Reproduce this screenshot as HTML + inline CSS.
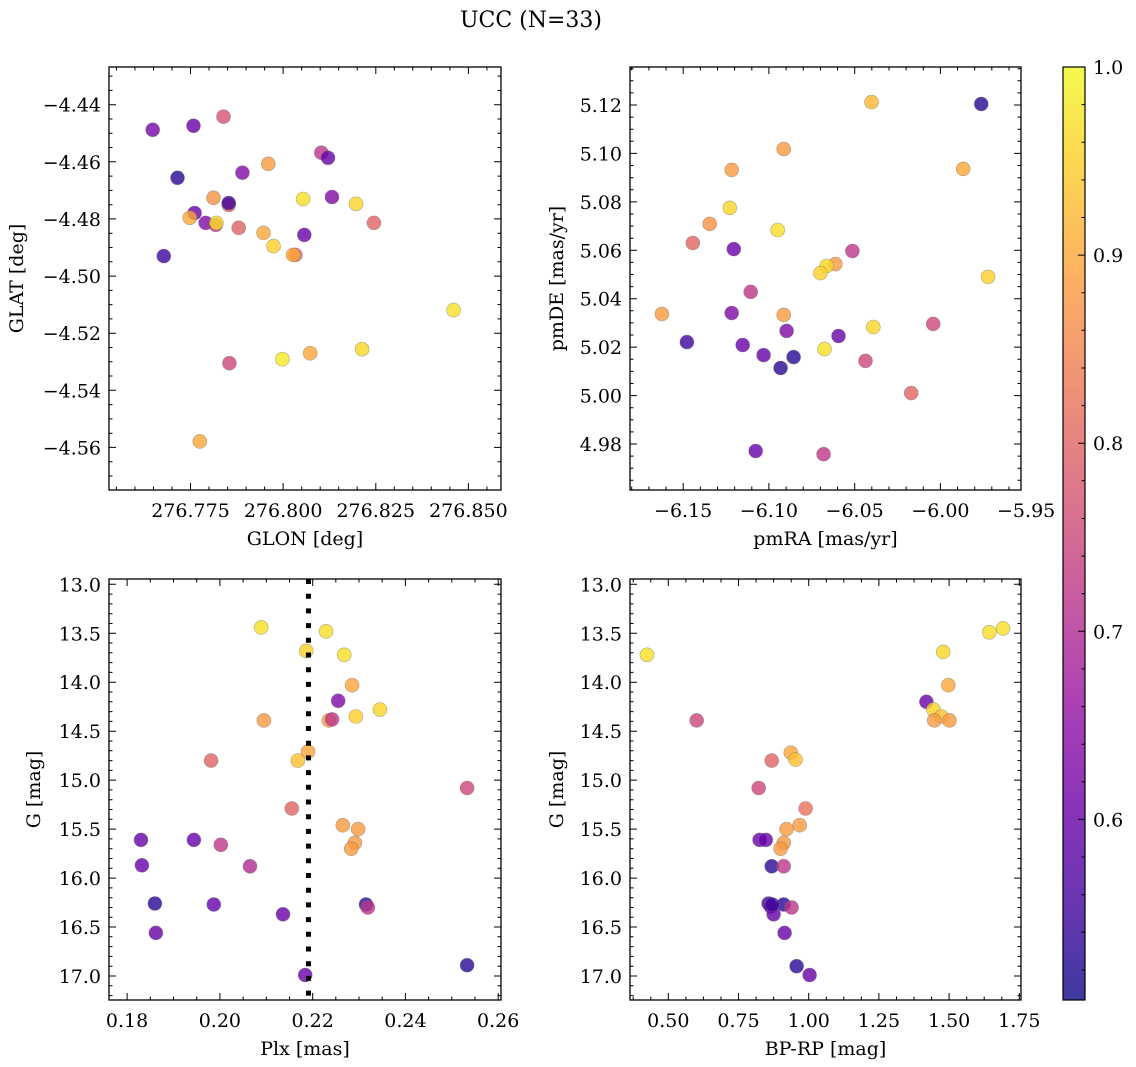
<!DOCTYPE html>
<html><head><meta charset="utf-8">
<style>
html,body{margin:0;padding:0;background:#fff;}
svg{display:block;font-family:"DejaVu Serif","Liberation Serif",serif;}
</style></head>
<body>
<svg id="fig" width="1136" height="1067" viewBox="0 0 1136 1067" xmlns="http://www.w3.org/2000/svg">
<text x="531" y="27" font-size="22" text-anchor="middle">UCC (N=33)</text>
</svg>
<script>
// ---- Panel 1: GLON vs GLAT ----
const glonX = [276.7648,276.7758,276.7839,276.7715,276.789,276.796,276.8103,276.8121,276.7812,276.7853,276.7853,276.8132,276.8054,276.8197,276.7761,276.7748,276.7791,276.7818,276.782,276.788,276.8245,276.7947,276.8057,276.7974,276.8033,276.8027,276.7678,276.846,276.8073,276.8213,276.7998,276.7855,276.7775];
const glatY = [-4.4488,-4.4474,-4.4442,-4.4656,-4.4638,-4.4607,-4.4568,-4.4586,-4.4726,-4.4751,-4.4744,-4.4723,-4.473,-4.4747,-4.4779,-4.4796,-4.4814,-4.4821,-4.4814,-4.4831,-4.4814,-4.4849,-4.4856,-4.4895,-4.4926,-4.4926,-4.493,-4.5119,-4.527,-4.5256,-4.5291,-4.5305,-4.5579];
const glonP = [0.62,0.6,0.77,0.53,0.63,0.88,0.72,0.6,0.87,0.8,0.55,0.63,0.97,0.96,0.6,0.9,0.63,0.72,0.97,0.8,0.8,0.9,0.6,0.95,0.8,0.9,0.55,0.97,0.9,0.96,0.98,0.75,0.9];
const glonTicks = [276.775,276.800,276.825,276.850];
const glatTicks = [-4.44,-4.46,-4.48,-4.50,-4.52,-4.54,-4.56];

// ---- Panel 2: pmRA vs pmDE ----
const pmraX = [-5.9762,-6.0402,-6.0914,-5.9867,-6.1217,-6.1228,-6.1345,-6.0949,-6.1444,-6.1205,-6.0513,-6.0612,-6.0664,-6.0699,-5.9722,-6.1106,-6.1624,-6.1217,-6.0914,-6.0391,-6.0042,-6.0897,-6.0594,-6.1478,-6.1153,-6.0676,-6.0856,-6.1031,-6.0437,-6.0932,-6.017,-6.1077,-6.0681];
const pmdeY = [5.1204,5.1212,5.1018,5.0936,5.0932,5.0775,5.0709,5.0684,5.0630,5.0605,5.0597,5.0543,5.0535,5.0506,5.049,5.0428,5.0337,5.0341,5.0333,5.0283,5.0296,5.0267,5.0246,5.0221,5.0209,5.0192,5.0159,5.0167,5.0143,5.0114,5.0010,4.9771,4.9758];
const pmP = [0.53,0.92,0.88,0.9,0.88,0.96,0.87,0.97,0.8,0.6,0.72,0.88,0.96,0.95,0.95,0.72,0.88,0.63,0.88,0.96,0.75,0.63,0.6,0.55,0.6,0.97,0.53,0.6,0.75,0.53,0.8,0.6,0.72];
const pmraTicks = [-6.15,-6.10,-6.05,-6.00,-5.95];
const pmdeTicks = [4.98,5.00,5.02,5.04,5.06,5.08,5.10,5.12];

// ---- Panel 3: Plx vs G ----
const plxX = [0.2089,0.2229,0.2186,0.2268,0.2285,0.2255,0.2345,0.2293,0.2095,0.2235,0.2242,0.2190,0.2168,0.1981,0.2533,0.2155,0.2265,0.2298,0.183,0.1944,0.2002,0.2291,0.2283,0.2065,0.1832,0.186,0.1987,0.2315,0.2319,0.2136,0.1862,0.2533,0.2184];
const plxG = [13.44,13.48,13.68,13.72,14.03,14.19,14.28,14.35,14.39,14.39,14.38,14.71,14.80,14.80,15.08,15.29,15.46,15.50,15.61,15.61,15.66,15.64,15.70,15.88,15.87,16.26,16.27,16.27,16.30,16.37,16.56,16.89,16.99];
const plxP = [0.97,0.97,0.95,0.97,0.9,0.63,0.96,0.95,0.88,0.88,0.72,0.9,0.93,0.8,0.75,0.8,0.88,0.88,0.6,0.6,0.72,0.88,0.88,0.7,0.6,0.53,0.6,0.53,0.72,0.6,0.6,0.53,0.6];
const plxLine = [0.2191];
const plxTicks = [0.18,0.20,0.22,0.24,0.26];
const gTicks = [13.0,13.5,14.0,14.5,15.0,15.5,16.0,16.5,17.0];

// ---- Panel 4: BP-RP vs G ----
const bprpX = [1.692,1.643,0.424,1.479,1.497,0.601,1.419,1.444,1.472,1.501,1.447,0.936,0.953,0.868,0.822,0.989,0.968,0.921,0.825,0.847,0.911,0.900,0.868,0.911,0.857,0.865,0.911,0.939,0.875,0.914,0.957,1.003,0.870];
const bprpG = [13.45,13.49,13.72,13.69,14.03,14.39,14.20,14.28,14.35,14.39,14.39,14.72,14.79,14.80,15.08,15.29,15.46,15.50,15.61,15.61,15.64,15.70,15.88,15.88,16.26,16.29,16.27,16.30,16.37,16.56,16.90,16.99,16.27];
const bprpP = [0.97,0.97,0.97,0.96,0.9,0.75,0.6,0.96,0.93,0.88,0.88,0.9,0.93,0.8,0.75,0.82,0.88,0.88,0.6,0.6,0.88,0.88,0.53,0.72,0.55,0.6,0.53,0.72,0.6,0.6,0.53,0.6,0.55];
const bprpTicks = [0.50,0.75,1.00,1.25,1.50,1.75];

// ---- Colorbar ----
const cbMin = 0.504, cbMax = 1.0;
const cbTicks = [0.6,0.7,0.8,0.9,1.0];

const NS = "http://www.w3.org/2000/svg";
const FS = 19;
const svg = document.getElementById('fig');
const plasma = ["#0d0887","#41049d","#6a00a8","#8f0da4","#b12a90","#cc4778","#e16462","#f2844b","#fca636","#fcce25","#f0f921"];
function hex(h){return [parseInt(h.slice(1,3),16),parseInt(h.slice(3,5),16),parseInt(h.slice(5,7),16)];}
function cmap(p){
  let t=(p-cbMin)/(cbMax-cbMin); t=Math.max(0,Math.min(1,t));
  const f=t*10, i=Math.min(9,Math.floor(f)), r=f-i;
  const a=hex(plasma[i]), b=hex(plasma[i+1]);
  return `rgb(${a.map((v,k)=>Math.round(v+(b[k]-v)*r)).join(',')})`;
}
function mk(tag, attrs, parent){
  const e=document.createElementNS(NS,tag);
  for(const k in attrs) e.setAttribute(k,attrs[k]);
  (parent||svg).appendChild(e); return e;
}
function fmt(v,d){return (v<0?'\u2212':'')+Math.abs(v).toFixed(d);}

function panel(cfg){
  const {L,T,R,B,x0,x1,y0,y1,name} = cfg;
  const sx = v => L + (v-x0)/(x1-x0)*(R-L);
  const sy = v => T + (v-y0)/(y1-y0)*(B-T);
  const g = mk('g',{});
  
  
  const pg = mk('g',{},g);
  
  
  cfg.xs.forEach((xv,i)=>{
    const c = mk('circle',{cx:sx(xv).toFixed(1),cy:sy(cfg.ys[i]).toFixed(1),r:7,fill:cmap(cfg.ps[i]),'fill-opacity':0.8,stroke:'#777','stroke-opacity':0.6,'stroke-width':0.6},pg);
    
    
  });
  if(cfg.vline){
    cfg.vline.forEach(v=>{
      const l = mk('line',{x1:sx(v),x2:sx(v),y1:T,y2:B,stroke:'#000','stroke-width':5,'stroke-dasharray':'5 9.7'},g);
      
      
    });
  }
  const fr = mk('rect',{x:L,y:T,width:R-L,height:B-T,fill:'none',stroke:'#000','stroke-width':1.3},g);
  
  
  let d='';
  const xstep = cfg.xt[1]-cfg.xt[0], ystep = cfg.yt[1]-cfg.yt[0];
  for(let k=-2;k<cfg.xt.length+2;k++){
    const base = cfg.xt[0]+k*xstep;
    for(let m=0;m<cfg.xdiv;m++){
      const v = base + m*xstep/cfg.xdiv; const x=sx(v);
      if(x<L-0.1||x>R+0.1) continue;
      const len = m===0?7:3.5;
      d+=`M${x.toFixed(1)} ${B}v${-len}M${x.toFixed(1)} ${T}v${len}`;
    }
  }
  for(let k=-2;k<cfg.yt.length+2;k++){
    const base = cfg.yt[0]+k*ystep;
    for(let m=0;m<cfg.ydiv;m++){
      const v = base + m*ystep/cfg.ydiv; const y=sy(v);
      if(y<Math.min(T,B)-0.1||y>Math.max(T,B)+0.1) continue;
      const len = m===0?7:3.5;
      d+=`M${L} ${y.toFixed(1)}h${len}M${R} ${y.toFixed(1)}h${-len}`;
    }
  }
  mk('path',{d:d,stroke:'#000','stroke-width':1,fill:'none'},g);
  cfg.xt.forEach(v=>{
    const t=mk('text',{x:sx(v),y:B+27,'font-size':FS,'text-anchor':'middle'},g);
    t.textContent=fmt(v,cfg.xd);
    
    
  });
  cfg.yt.forEach(v=>{
    const t=mk('text',{x:L-8,y:sy(v)+7,'font-size':FS,'text-anchor':'end'},g);
    t.textContent=fmt(v,cfg.yd);
    
    
  });
  const xl=mk('text',{x:(L+R)/2,y:B+55,'font-size':FS,'text-anchor':'middle'},g);
  xl.textContent=cfg.xlabel;
  
  
  const yl=mk('text',{x:0,y:0,'font-size':FS,'text-anchor':'middle',transform:`translate(${cfg.ylx},${(T+B)/2}) rotate(-90)`},g);
  yl.textContent=cfg.ylabel;
  
  
}

panel({name:'glon-glat',L:109,T:67,R:501,B:490,x0:276.753,x1:276.8588,y0:-4.4268,y1:-4.5749,xs:glonX,ys:glatY,ps:glonP,xt:glonTicks,yt:glatTicks,xdiv:5,ydiv:4,xd:3,yd:2,xlabel:'GLON [deg]',ylabel:'GLAT [deg]',ylx:23});
panel({name:'pm',L:630,T:67,R:1021,B:490,x0:-6.181,x1:-5.953,y0:5.1357,y1:4.961,xs:pmraX,ys:pmdeY,ps:pmP,xt:pmraTicks,yt:pmdeTicks,xdiv:5,ydiv:4,xd:2,yd:2,xlabel:'pmRA [mas/yr]',ylabel:'pmDE [mas/yr]',ylx:563});
panel({name:'plx-g',L:109,T:579,R:501,B:1000,x0:0.1761,x1:0.2606,y0:12.946,y1:17.245,xs:plxX,ys:plxG,ps:plxP,xt:plxTicks,yt:gTicks,xdiv:4,ydiv:5,xd:2,yd:1,xlabel:'Plx [mas]',ylabel:'G [mag]',ylx:40,vline:plxLine});
panel({name:'cmd',L:630,T:579,R:1021,B:1000,x0:0.3635,x1:1.756,y0:12.946,y1:17.245,xs:bprpX,ys:bprpG,ps:bprpP,xt:bprpTicks,yt:gTicks,xdiv:4,ydiv:5,xd:2,yd:1,xlabel:'BP-RP [mag]',ylabel:'G [mag]',ylx:563});

(function(){
  const L=1063,R=1085,T=67,B=1000;
  const g=mk('g',{});
  
  
  const defs=mk('defs',{},g);
  const lg=mk('linearGradient',{id:'cbg',x1:0,y1:1,x2:0,y2:0},defs);
  plasma.forEach((c,i)=>mk('stop',{offset:(i/10),'stop-color':c},lg));
  const r=mk('rect',{x:L,y:T,width:R-L,height:B-T,fill:'url(#cbg)','fill-opacity':0.8,stroke:'#000','stroke-width':1.2},g);
  
  
  const sy=v=>B-(v-cbMin)/(cbMax-cbMin)*(B-T);
  let d='';
  for(let v=0.52;v<=1.0001;v+=0.02){
    const major=Math.abs(v*10-Math.round(v*10))<1e-6;
    d+=`M${R} ${sy(v).toFixed(1)}h${major?-7:-3.5}`;
  }
  mk('path',{d:d,stroke:'#000','stroke-width':1},g);
  cbTicks.forEach(v=>{
    const t=mk('text',{x:R+8,y:sy(v)+7,'font-size':FS},g);
    t.textContent=v.toFixed(1);
    
    
  });
})();
</script>
</body></html>
